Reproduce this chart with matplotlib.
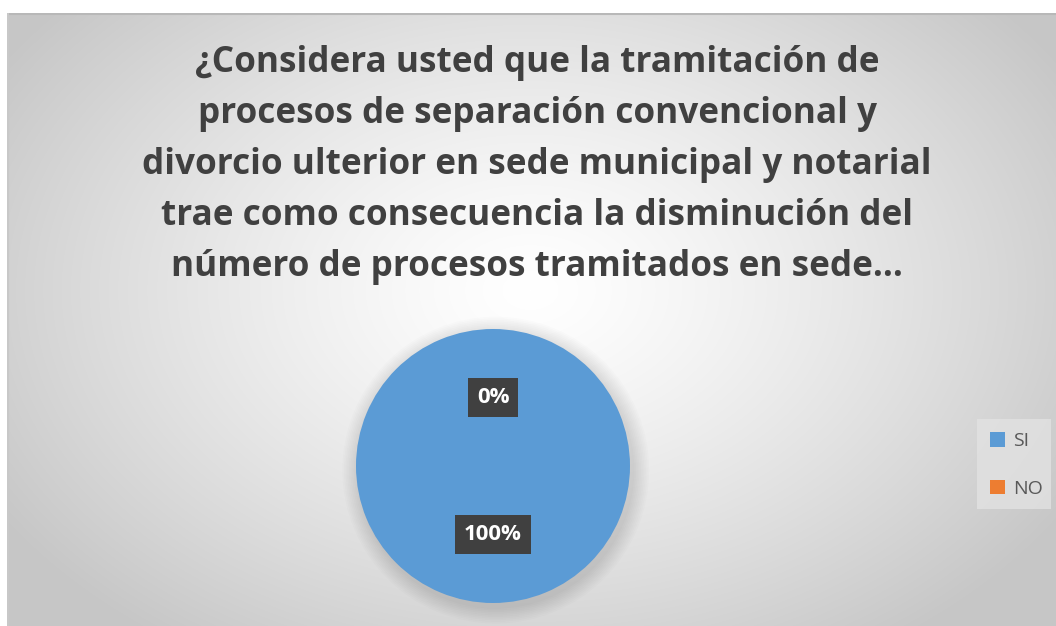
import numpy as np
import matplotlib
matplotlib.use("Agg")
import matplotlib.pyplot as plt
from matplotlib.patches import Circle, Rectangle, Patch

labels = ["SI", "NO"]
values = [100, 0]
colors = ["#5B9BD5", "#ED7D31"]
title_lines = [
    "¿Considera usted que la tramitación de",
    "procesos de separación convencional y",
    "divorcio ulterior en sede municipal y notarial",
    "trae como consecuencia la disminución del",
    "número de procesos tramitados en sede…",
]

W, H = 1056, 626
fig = plt.figure(figsize=(W / 100, H / 100), dpi=100)
fig.patch.set_facecolor("white")

# chart area with radial grey gradient
bx0, by0 = 7, 13
bg = fig.add_axes([bx0 / W, 0, (W - bx0) / W, (H - by0) / H])
bg.set_axis_off()
ny, nx = H - by0, W - bx0
yy, xx = np.mgrid[0:ny, 0:nx]
cx, cy = 530 - bx0, 290 - by0
d = np.sqrt(((xx - cx) / 620.0) ** 2 + ((yy - cy) / 430.0) ** 2)
d = np.clip(d, 0, 1)
shade = 1.0 - 0.22 * d ** 1.3
img = np.dstack([shade, shade, shade])
bg.imshow(img, extent=[0, nx, ny, 0], aspect="auto", interpolation="bilinear")
bg.set_xlim(0, nx)
bg.set_ylim(ny, 0)
bg.plot([0, nx], [0.5, 0.5], color="#b8b8b8", lw=1.5)
bg.plot([0.5, 0.5], [0, ny], color="#c8c8c8", lw=1.5)

# title
for i, line in enumerate(title_lines):
    fig.text(537 / W, 1 - (63 + 51 * i) / H, line, ha="center", va="center",
             fontsize=25.3, fontweight="bold", color="#404040", family="Open Sans")

# pie
pcx, pcy, r = 493, 466, 137
ax = fig.add_axes([(pcx - r) / W, (H - pcy - r) / H, 2 * r / W, 2 * r / H])
ax.set_axis_off()
for k in range(10):
    ax.add_patch(Circle((0.02, -0.03), 1.0 + 0.012 * (10 - k), color="#000000",
                        alpha=0.012, lw=0, zorder=0, clip_on=False))
wedges, texts, autotexts = ax.pie(values, colors=colors, startangle=90,
                                  counterclock=False, autopct="%.0f%%",
                                  pctdistance=0.5, wedgeprops=dict(lw=0))
for t in autotexts:
    t.set_color("white")
    t.set_fontweight("bold")
    t.set_fontsize(16)
    t.set_family("Open Sans")
    t.set_bbox(dict(boxstyle="square,pad=0.4", fc="#404040", ec="none"))
ax.set_xlim(-1, 1)
ax.set_ylim(-1, 1)

# legend
lbox = Rectangle((977 / W, 1 - 509 / H), 74 / W, 90 / H, transform=fig.transFigure,
                 fc="#e2e2e2", ec="none", alpha=0.8)
fig.add_artist(lbox)
handles = [Patch(fc=c, ec="none") for c in colors]
fig.legend(handles, labels, loc="center left", bbox_to_anchor=(972 / W, 1 - 465 / H),
           frameon=False, labelcolor="#595959", handlelength=0.8,
           handleheight=0.8, handletextpad=0.4, labelspacing=1.5,
           prop={"family": "Open Sans", "size": 14})

fig.savefig("out.png", dpi=100)
